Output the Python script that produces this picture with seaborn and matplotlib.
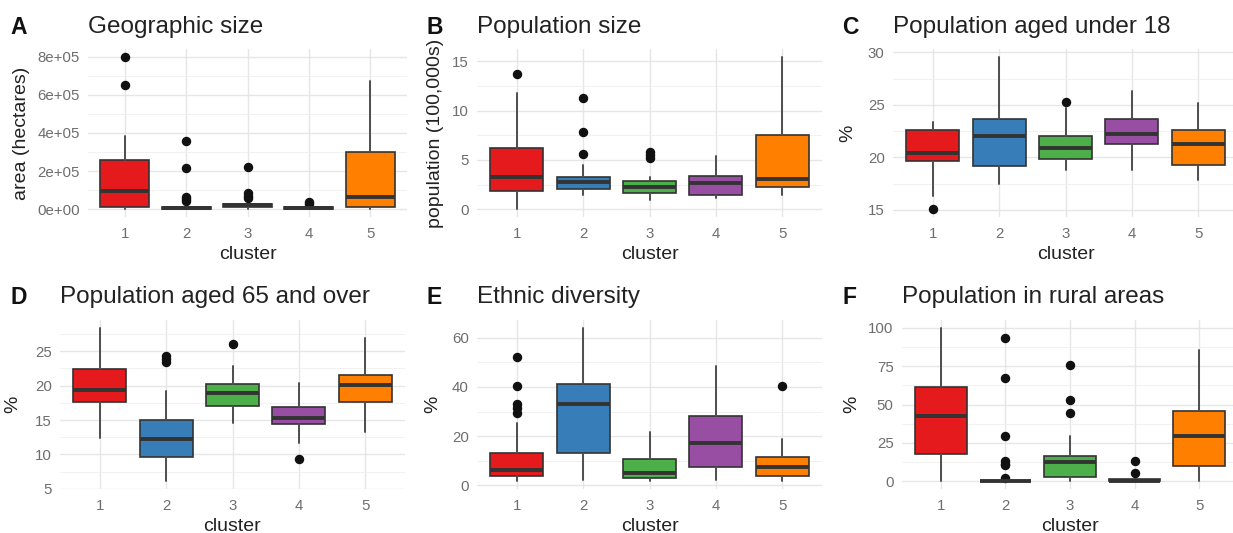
import matplotlib
matplotlib.use("Agg")
import matplotlib.pyplot as plt
from matplotlib.ticker import MultipleLocator, FuncFormatter
import seaborn as sns

# ---------------- data ----------------
clusters = ["1", "2", "3", "4", "5"]

# A: Geographic size (hectares)
area_lower = [2e3, 0, 2e3, 0, 2e3]
area_q1 = [1.4e4, 2e3, 1.2e4, 3e3, 1.4e4]
area_median = [9.6e4, 5e3, 2.2e4, 6e3, 6.7e4]
area_q3 = [2.6e5, 1.2e4, 3.0e4, 1.2e4, 3.03e5]
area_upper = [3.82e5, 3.0e4, 5.0e4, 2.5e4, 6.75e5]
area_outliers = [[8.0e5, 6.54e5], [3.56e5, 2.19e5, 6.5e4, 5.5e4, 4.5e4],
                 [2.2e5, 8.5e4, 7.0e4, 6.0e4], [4.0e4, 3.0e4], []]

# B: Population size (100,000s)
pop_lower = [0.0, 1.45, 0.95, 1.1, 1.45]
pop_q1 = [1.9, 2.1, 1.7, 1.45, 2.3]
pop_median = [3.3, 2.8, 2.3, 2.7, 3.05]
pop_q3 = [6.2, 3.3, 2.9, 3.4, 7.55]
pop_upper = [11.8, 4.5, 3.3, 5.4, 15.45]
pop_outliers = [[13.7], [11.3, 7.8, 5.6], [5.8, 5.5, 5.2], [], []]

# C: Population aged under 18 (%)
u18_lower = [16.3, 17.5, 18.8, 18.8, 17.9]
u18_q1 = [19.7, 19.15, 19.85, 21.3, 19.3]
u18_median = [20.4, 22.0, 20.9, 22.25, 21.3]
u18_q3 = [22.6, 23.7, 22.0, 23.7, 22.6]
u18_upper = [23.4, 29.6, 24.7, 26.3, 25.15]
u18_outliers = [[15.06], [], [25.3], [], []]

# D: Population aged 65 and over (%)
o65_lower = [12.4, 6.1, 14.6, 11.7, 13.3]
o65_q1 = [17.6, 9.65, 17.1, 14.35, 17.6]
o65_median = [19.3, 12.3, 18.95, 15.3, 20.15]
o65_q3 = [22.4, 15.0, 20.2, 16.9, 21.6]
o65_upper = [28.4, 19.2, 22.8, 20.4, 26.9]
o65_outliers = [[], [24.3, 23.8, 23.4], [26.0], [9.35], []]

# E: Ethnic diversity (%)
eth_lower = [1.8, 2.0, 1.8, 2.0, 1.6]
eth_q1 = [3.8, 13.2, 3.0, 7.5, 3.8]
eth_median = [6.4, 33.2, 4.8, 17.1, 7.5]
eth_q3 = [13.2, 41.3, 10.6, 28.2, 11.6]
eth_upper = [25.2, 64.1, 21.8, 48.7, 18.7]
eth_outliers = [[52.2, 40.2, 33.2, 31.4, 29.3], [], [], [], [40.2]]

# F: Population in rural areas (%)
rur_lower = [0.0, 0.0, 0.0, 0.0, 0.0]
rur_q1 = [17.6, 0.0, 2.6, 0.0, 9.9]
rur_median = [42.4, 0.0, 12.5, 0.5, 29.7]
rur_q3 = [61.1, 0.5, 16.5, 1.5, 45.7]
rur_upper = [100.0, 1.3, 29.7, 3.0, 85.7]
rur_outliers = [[], [93.0, 67.0, 29.7, 13.2, 11.0, 10.3, 2.2],
                [75.4, 52.7, 44.6], [13.2, 5.1], []]

# ---------------- styling ----------------
sns.set_theme(style="whitegrid")
plt.rcParams['font.family'] = ['Liberation Sans', 'DejaVu Sans']
palette = sns.color_palette("Set1", 5)

W, H = 1233, 533
fig = plt.figure(figsize=(W / 100, H / 100), dpi=100)
fig.patch.set_facecolor("white")


def fx(px):
    return px / W


def fy(py):
    return 1 - py / H


panels = [
    ("A", "Geographic size", "area (hectares)",
     (area_lower, area_q1, area_median, area_q3, area_upper, area_outliers),
     (88, 407, 49, 217), 2e5, "sci", 10, 22),
    ("B", "Population size", "population (100,000s)",
     (pop_lower, pop_q1, pop_median, pop_q3, pop_upper, pop_outliers),
     (477, 822, 49, 217), 5, "int", 427, 435),
    ("C", "Population aged under 18", "%",
     (u18_lower, u18_q1, u18_median, u18_q3, u18_upper, u18_outliers),
     (893, 1238, 49, 217), 5, "int", 842, 848),
    ("D", "Population aged 65 and over", "%",
     (o65_lower, o65_q1, o65_median, o65_q3, o65_upper, o65_outliers),
     (60, 405, 320, 489), 5, "int", 10, 13),
    ("E", "Ethnic diversity", "%",
     (eth_lower, eth_q1, eth_median, eth_q3, eth_upper, eth_outliers),
     (477, 822, 320, 489), 20, "int", 427, 433),
    ("F", "Population in rural areas", "%",
     (rur_lower, rur_q1, rur_median, rur_q3, rur_upper, rur_outliers),
     (902, 1238, 320, 489), 25, "int", 842, 852),
]

edge = "#333333"
whisk = "#4d4d4d"
tick_col = "#6e6e6e"
text_col = "#222222"

for letter, title, ylab, data, (l, r, t, b), step, fmt, letter_x, ylab_x in panels:
    lower, q1, med, q3, upper, outl = data
    ax = fig.add_axes([fx(l), fy(b), fx(r) - fx(l), fy(t) - fy(b)])
    ax.set_facecolor("white")
    stats = []
    for i in range(len(clusters)):
        stats.append(dict(med=med[i], q1=q1[i], q3=q3[i],
                          whislo=lower[i], whishi=upper[i],
                          fliers=outl[i], label=clusters[i]))
    bp = ax.bxp(stats, positions=range(1, len(clusters) + 1), widths=0.8,
                patch_artist=True, showcaps=False,
                boxprops=dict(edgecolor=edge, linewidth=1.2),
                medianprops=dict(color=edge, linewidth=2.8, solid_capstyle="butt"),
                whiskerprops=dict(color=whisk, linewidth=1.4),
                flierprops=dict(marker="o", markerfacecolor="#111111",
                                markeredgecolor="#111111", markersize=5.8))
    for patch, c in zip(bp["boxes"], palette):
        patch.set_facecolor(c)
        patch.set_zorder(2)
    for m in bp["medians"]:
        m.set_zorder(3)

    allv = lower + upper + [v for o in outl for v in o]
    lo, hi = min(allv), max(allv)
    pad = 0.05 * (hi - lo)
    ax.set_ylim(lo - pad, hi + pad)
    ax.set_xlim(0.4, 5.6)
    ax.set_xticks(range(1, len(clusters) + 1))
    ax.set_xticklabels(clusters)
    ax.yaxis.set_major_locator(MultipleLocator(step))
    ax.yaxis.set_minor_locator(MultipleLocator(step / 2))
    if fmt == "sci":
        ax.yaxis.set_major_formatter(FuncFormatter(lambda v, p: "{:.0e}".format(v)))
    else:
        ax.yaxis.set_major_formatter(FuncFormatter(lambda v, p: "{:g}".format(v)))

    ax.grid(True, which="major", axis="both", color="#e6e6e6", linewidth=1.0)
    ax.grid(True, which="minor", axis="y", color="#efefef", linewidth=0.6)
    ax.set_axisbelow(True)
    for s in ax.spines.values():
        s.set_visible(False)
    ax.tick_params(axis="both", which="both", length=0)
    ax.tick_params(axis="y", labelsize=10.8, labelcolor=tick_col, pad=6)
    ax.tick_params(axis="x", labelsize=10.8, labelcolor=tick_col, pad=7)

    ax.set_xlabel("cluster", fontsize=14, color=text_col, labelpad=4)
    ax.set_ylabel(ylab, fontsize=14, color=text_col)
    ax.yaxis.label.set_va("center")
    ax.yaxis.set_label_coords((ylab_x - l) / (r - l), 0.5)

    ty = 27 if t < 100 else 297
    fig.text(fx(letter_x), fy(ty), letter, fontsize=16.5, fontweight="bold",
             color="#111111", va="center", ha="left")
    fig.text(fx(l), fy(ty), title, fontsize=17.5, color=text_col,
             va="center", ha="left")

fig.savefig("out.png", dpi=100, facecolor="white")
